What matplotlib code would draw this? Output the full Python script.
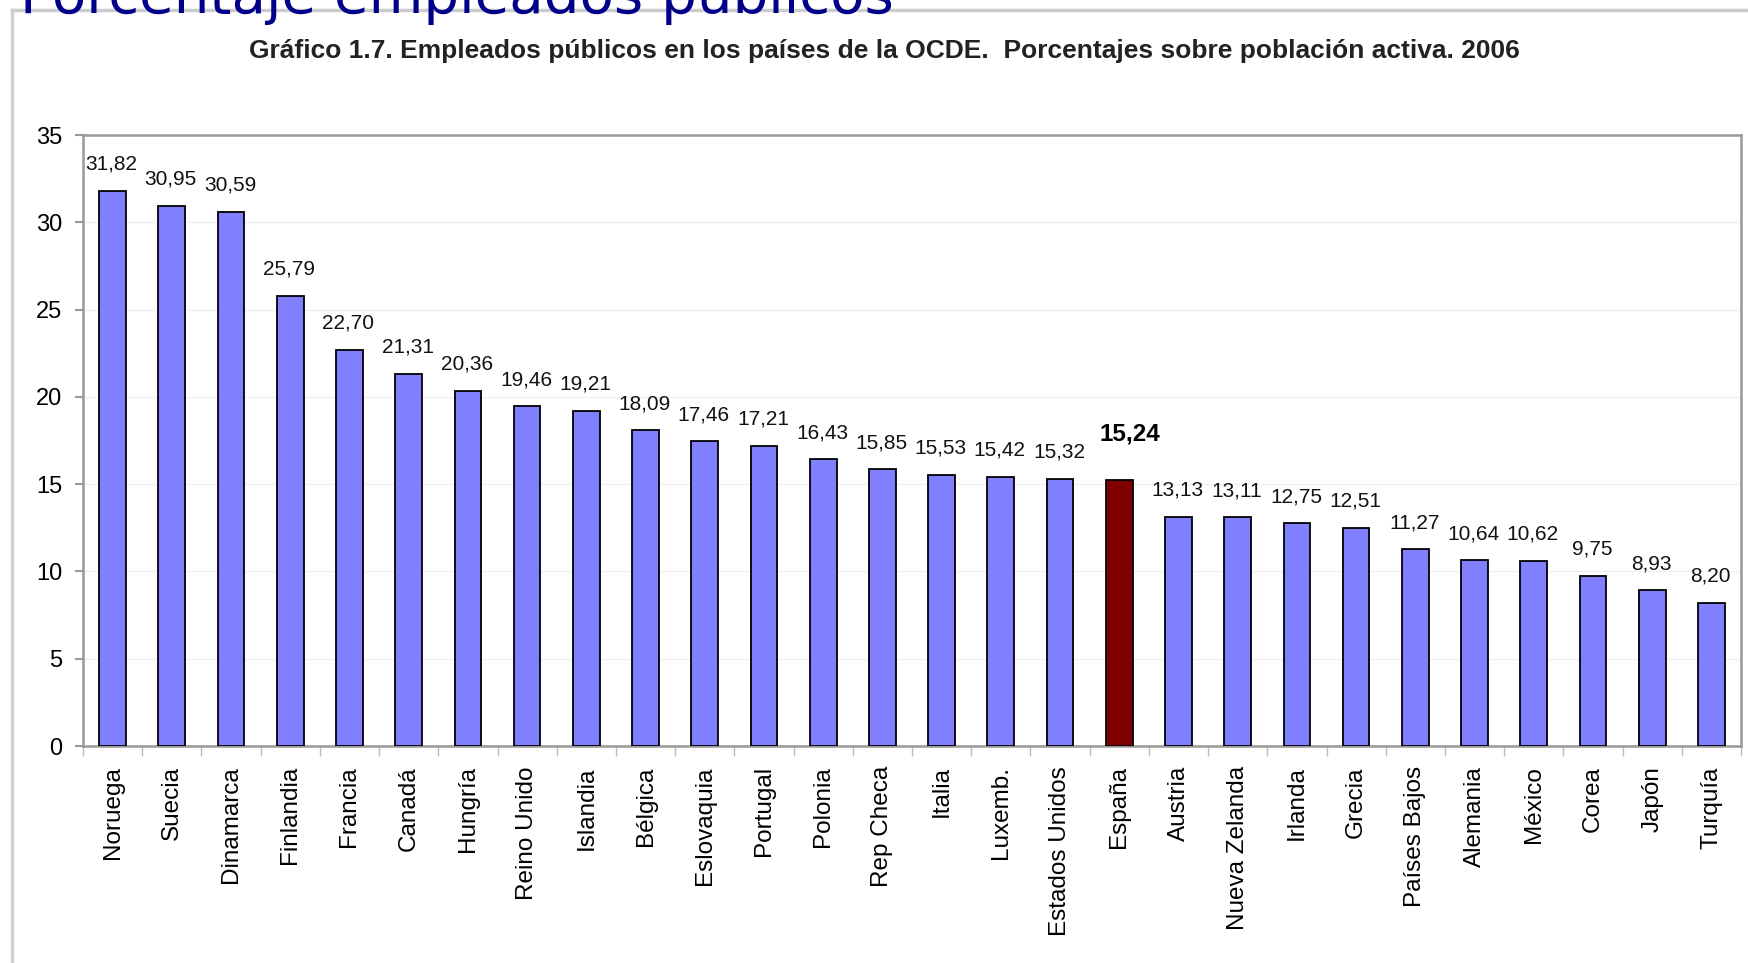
import matplotlib.pyplot as plt
from matplotlib.lines import Line2D
from matplotlib.ticker import FixedLocator

paises = ['Noruega', 'Suecia', 'Dinamarca', 'Finlandia', 'Francia', 'Canadá',
          'Hungría', 'Reino Unido', 'Islandia', 'Bélgica', 'Eslovaquia',
          'Portugal', 'Polonia', 'Rep Checa', 'Italia', 'Luxemb.',
          'Estados Unidos', 'España', 'Austria', 'Nueva Zelanda', 'Irlanda',
          'Grecia', 'Países Bajos', 'Alemania', 'México', 'Corea', 'Japón',
          'Turquía']
porcentajes = [31.82, 30.95, 30.59, 25.79, 22.70, 21.31, 20.36, 19.46, 19.21,
               18.09, 17.46, 17.21, 16.43, 15.85, 15.53, 15.42, 15.32, 15.24,
               13.13, 13.11, 12.75, 12.51, 11.27, 10.64, 10.62, 9.75, 8.93,
               8.20]
destacado = 'España'

fuente = ['Liberation Sans', 'DejaVu Sans']

W, H = 1748, 963
fig = plt.figure(figsize=(W / 100, H / 100), dpi=100)
ax = fig.add_axes([83 / W, 1 - 746 / H, (1741 - 83) / W, (746 - 135) / H])

colores = ['#800000' if p == destacado else '#8080FF' for p in paises]
x = list(range(len(paises)))
ax.bar(x, porcentajes, width=0.45, color=colores, edgecolor='black', linewidth=1.3, zorder=3)

# etiquetas de valores
for i, (p, v) in enumerate(zip(paises, porcentajes)):
    txt = f'{v:.2f}'.replace('.', ',')
    if p == destacado:
        ax.annotate(txt, (i, v), xytext=(11, 34), textcoords='offset pixels',
                    ha='center', va='bottom', fontsize=17.5, fontweight='bold',
                    family=fuente)
    else:
        ax.annotate(txt, (i, v), xytext=(-1, 17), textcoords='offset pixels',
                    ha='center', va='bottom', fontsize=15, family=fuente,
                    color='#111111')

ax.set_xlim(-0.5, len(paises) - 0.5)
ax.set_ylim(0, 35)
ax.set_yticks(range(0, 36, 5))
ax.set_yticklabels([str(t) for t in range(0, 36, 5)], family=fuente, fontsize=17)
ax.set_xticks(x)
ax.set_xticklabels(paises, rotation=90, family=fuente, fontsize=17.5)
ax.tick_params(axis='x', which='major', length=0, pad=14.5)
ax.xaxis.set_minor_locator(FixedLocator([i + 0.5 for i in range(-1, len(paises))]))
ax.tick_params(axis='x', which='minor', length=7, color='#bbbbbb', width=1)
ax.tick_params(axis='y', length=6, color='#999999', width=1.5, pad=9)

ax.grid(axis='y', color='#f0f0f0', linewidth=1, zorder=0)
for lado in ['left', 'bottom', 'top', 'right']:
    ax.spines[lado].set_color('#999999')
    ax.spines[lado].set_linewidth(1.8)

ax.set_title('Gráfico 1.7. Empleados públicos en los países de la OCDE.  Porcentajes sobre población activa. 2006',
             family=fuente, fontsize=19, fontweight='bold', color='#222222',
             x=(884 - 83) / (1741 - 83), y=1 + (135 - 66) / (746 - 135), va='baseline')

# marco exterior
fig.add_artist(Line2D([12 / W, 12 / W], [0, 1 - 10 / H], color='#d0d0d0', linewidth=2.5))
fig.add_artist(Line2D([12 / W, 1], [1 - 10 / H, 1 - 10 / H], color='#cccccc', linewidth=2.5))

# titulo grande cortado
fig.text(20 / W, 1 - 13 / H, 'Porcentaje empleados públicos', color='#00008B',
         fontsize=40.5, family='DejaVu Sans', va='baseline', ha='left')

fig.savefig('out.png', dpi=100)
